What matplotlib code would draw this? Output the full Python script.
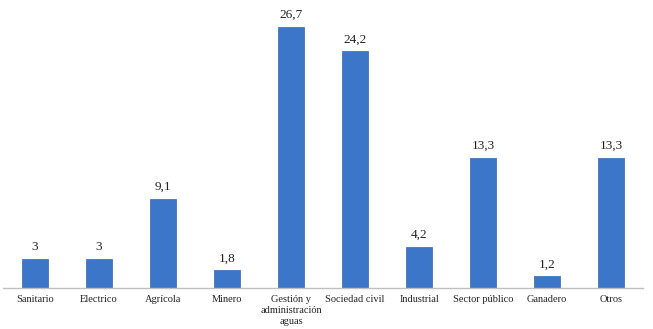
import matplotlib
matplotlib.use("Agg")
import matplotlib.pyplot as plt

categories = ["Sanitario", "Electrico", "Agrícola", "Minero",
              "Gestión y\nadministración\naguas", "Sociedad civil",
              "Industrial", "Sector público", "Ganadero", "Otros"]
values = [3, 3, 9.1, 1.8, 26.7, 24.2, 4.2, 13.3, 1.2, 13.3]
labels = ["3", "3", "9,1", "1,8", "26,7", "24,2", "4,2", "13,3", "1,2", "13,3"]

plt.rcParams["font.family"] = ["Liberation Serif", "DejaVu Serif"]

fig = plt.figure(figsize=(6.53, 3.29), dpi=100)
ax = fig.add_axes([3 / 653, 41 / 329, 640 / 653, 288 / 329])

x = range(len(categories))
ax.bar(x, values, width=0.41, color="#3c76c8", edgecolor="#3068b4", linewidth=0.5)
for xi, v, lab in zip(x, values, labels):
    ax.text(xi, v + 0.6, lab, ha="center", va="bottom", fontsize=9.5, color="#222222")

ax.set_xlim(-0.5, len(categories) - 0.5)
ax.set_ylim(0, 29.45)
ax.set_xticks(list(x))
ax.set_xticklabels(categories, fontsize=7.5, color="#222222", linespacing=1.3)
ax.tick_params(axis="x", length=0, pad=5)
ax.set_yticks([])
for s in ["top", "right", "left"]:
    ax.spines[s].set_visible(False)
ax.spines["bottom"].set_color("#bfbfbf")
ax.spines["bottom"].set_linewidth(1)

fig.savefig("out.png", dpi=100)
